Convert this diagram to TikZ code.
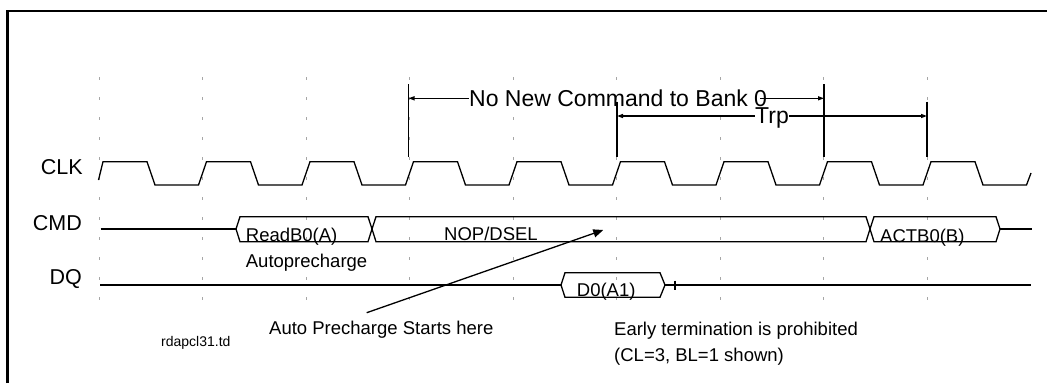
\documentclass[tikz,border=0pt]{standalone}
\usepackage{fontspec}
\setmainfont{Liberation Sans}
\usetikzlibrary{arrows.meta}
\begin{document}
\begin{tikzpicture}[x=1pt,y=-1pt,
  sig/.style={line width=1.3pt,black,line join=miter},
  gridln/.style={black!35,line width=0.9pt,dash pattern=on 3pt off 17pt},
  lbl/.style={font=\fontsize{21.5}{24}\selectfont,inner sep=0pt},
  txt/.style={font=\fontsize{18.5}{22}\selectfont,inner sep=0pt},
  bigtxt/.style={font=\fontsize{23}{26}\selectfont,inner sep=0pt},
  small/.style={font=\fontsize{14}{16}\selectfont,inner sep=0pt},
  tipS/.style={line width=1.3pt},
  dimL/.style={line width=1.3pt,{Triangle[length=6pt,width=4pt]}-},
  dimR/.style={line width=1.3pt,-{Triangle[length=6pt,width=4pt]}},
  vline/.style={line width=1.4pt}]
\useasboundingbox (0,0) rectangle (1047,383);
% frame (top and left only)
\draw[line width=2.5pt] (7.7,383) -- (7.7,10.8) -- (1047,10.8);
% grid
\foreach \k in {0,...,8}
  \draw[gridln] ({99+103.5*\k},77) -- ({99+103.5*\k},302);
% signal labels
\node[lbl,anchor=east] (clk) at (83,167.5) {CLK};
\node[lbl,anchor=east] (cmd) at (82,223.5) {CMD};
\node[lbl,anchor=east] (dq) at (82,279) {DQ};
% clock
\draw[sig] (98.5,180) -- (103,161.7)
  \foreach \k in {0,...,7} {
    -- ({99+103.5*\k+48},161.7) -- ({99+103.5*\k+56},185)
    -- ({99+103.5*\k+99.5},185) -- ({99+103.5*\k+107.5},161.7)}
  -- (975,161.7) -- (983,185) -- (1026.5,185) -- (1031,173);
% CMD bus
\draw[sig] (100.7,229) -- (236,229);
\draw[sig] (236,229) -- (240,216.7) -- (368,216.7) -- (372,229) -- (368,241.7) -- (240,241.7) -- cycle;
\draw[sig] (372,229) -- (376,216.7) -- (866,216.7) -- (870,229) -- (866,241.7) -- (376,241.7) -- cycle;
\draw[sig] (870,229) -- (874,216.7) -- (996,216.7) -- (1000,229) -- (996,241.7) -- (874,241.7) -- cycle;
\draw[sig] (1000,229) -- (1032,229);
\node[txt,anchor=base west] (rd) at (245.7,241.7) {ReadB0(A)};
\node[txt,anchor=base west] (ap) at (245.7,267.3) {Autoprecharge};
\node[txt,anchor=base west] (nop) at (444,240.7) {NOP/DSEL};
\node[txt,anchor=base west] (act) at (880,242.3) {ACTB0(B)};
% DQ bus
\draw[sig] (100,285) -- (561,285);
\draw[sig] (561,285) -- (565,272.7) -- (660,272.7) -- (665,285) -- (660,297.3) -- (565,297.3) -- cycle;
\draw[sig] (665,285) -- (1031,285);
\draw[sig] (675,280.5) -- (675,289.5);
\node[txt,anchor=base west] (d0) at (576.7,296.7) {D0(A1)};
% No New Command to Bank 0
\coordinate (n1) at (408.5,98.3);
\coordinate (n2) at (824,98.3);
\draw[vline] (408.5,84) -- (408.5,156.7);
\draw[vline] (824,84) -- (824,156.7);
\node[bigtxt,anchor=base west] (nnc) at (469,106.7) {No New Command to Bank 0};
\draw[dimL] (n1) -- (nnc.west |- n1);
\draw[dimR] ([xshift=-7pt]nnc.east |- n1) -- (n2);
% Trp
\coordinate (t1) at (617,116);
\coordinate (t2) at (927,116);
\draw[vline] (617,101.7) -- (617,156.7);
\draw[vline] (927,101.7) -- (927,156.7);
\node[bigtxt,anchor=base west] (trp) at (755,123.3) {Trp};
\draw[dimL] (t1) -- (trp.west |- t1);
\draw[dimR] (trp.east |- t1) -- (t2);
% Auto precharge arrow
\coordinate (a1) at (366.7,312.7);
\coordinate (a2) at (603.3,230);
\draw[line width=1.3pt,-{Triangle[length=10pt,width=8pt]}] (a1) -- (a2);
\node[txt,anchor=base west] (aps) at (269,334) {Auto Precharge Starts here};
\node[small,anchor=base west] (fn) at (161,346.7) {rdapcl31.td};
\node[txt,anchor=base west] (et1) at (614,335) {Early termination is prohibited};
\node[txt,anchor=base west] (et2) at (614,361.7) {(CL=3, BL=1 shown)};
\end{tikzpicture}
\end{document}
